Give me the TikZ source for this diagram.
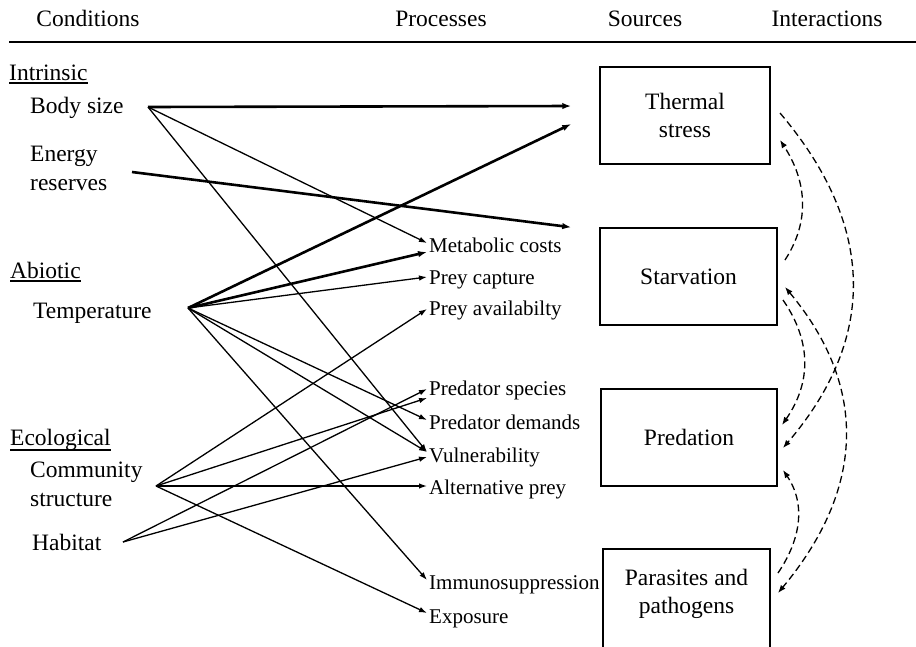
\documentclass[tikz,border=0pt]{standalone}
\usepackage{fontspec}
\setmainfont{Liberation Serif}
\usetikzlibrary{arrows.meta,calc}
\begin{document}
\begin{tikzpicture}[x=1pt,y=-1pt,
  lab/.style={anchor=base west,inner sep=0pt,font=\fontsize{23.5}{29}\selectfont},
  lab2/.style={anchor=west,inner sep=0pt,align=left,font=\fontsize{23.5}{29}\selectfont},
  proc/.style={anchor=base west,inner sep=0pt,font=\fontsize{21}{25}\selectfont},
  head/.style={anchor=base,inner sep=0pt,font=\fontsize{23.5}{29}\selectfont},
  srcbox/.style={draw,line width=1.5pt,align=center,inner sep=0pt,font=\fontsize{23.5}{28.5}\selectfont},
  boxtxt/.style={align=center,inner sep=0pt,font=\fontsize{23.5}{28.5}\selectfont},
  uline/.style={line width=1.2pt},
  thn/.style={line width=1.3pt,-{Latex[length=8pt,width=5.5pt]}},
  thk/.style={line width=2.6pt,-{Latex[length=9pt,width=6.5pt]}},
  dsh/.style={line width=1.3pt,dash pattern=on 7pt off 4pt,-{Latex[length=8pt,width=6pt]}},
  dshtwo/.style={line width=1.3pt,dash pattern=on 7pt off 4pt,{Latex[length=8pt,width=6pt]}-{Latex[length=8pt,width=6pt]}},
]
\useasboundingbox (0,0) rectangle (916,646);
\clip (0,0) rectangle (916,646);

% header
\node[head] (hc) at (88,26) {Conditions};
\node[head] (hp) at (441,26) {Processes};
\node[head] (hs) at (645,26) {Sources};
\node[head] (hi) at (827,26) {Interactions};
\draw[line width=1.8pt] (9,42) -- (916,42);

% conditions
\node[lab] (intr) at (9,80) {Intrinsic};
\draw[uline] ($(intr.base west)+(0,3)$) -- ($(intr.base east)+(0,3)$);
\node[lab] (bsz) at (30,113) {Body size};
\node[lab2] (enr) at (30,168) {Energy\\reserves};
\node[lab] (abio) at (10,278) {Abiotic};
\draw[uline] ($(abio.base west)+(0,3)$) -- ($(abio.base east)+(0,3)$);
\node[lab] (temp) at (33,318) {Temperature};
\node[lab] (ecol) at (10,445) {Ecological};
\draw[uline] ($(ecol.base west)+(0,5)$) -- ($(ecol.base east)+(0,5)$);
\node[lab2] (comm) at (30,484) {Community\\structure};
\node[lab] (hab) at (32,550) {Habitat};

\coordinate (pBS) at (148,107);
\coordinate (pER) at (132,172);
\coordinate (pT) at (188,308);
\coordinate (pC) at (156,486);
\coordinate (pH) at (123,542);

% processes
\node[proc] (mc) at (429,252) {Metabolic costs};
\node[proc] (pc) at (429,284) {Prey capture};
\node[proc] (pa) at (429,315) {Prey availabilty};
\node[proc] (ps) at (429,395) {Predator species};
\node[proc] (pd) at (429,429) {Predator demands};
\node[proc] (vul) at (429,462) {Vulnerability};
\node[proc] (alt) at (429,494) {Alternative prey};
\node[proc] (imm) at (429,589) {Immunosuppression};
\node[proc] (exq) at (429,623) {Exposure};

% sources
\node[srcbox,minimum width=170pt,minimum height=97pt] (therm) at (685,115.5) {Thermal\\stress};
\node[srcbox,minimum width=177pt,minimum height=97pt] (starv) at (688.5,276.5) {Starvation};
\node[srcbox,minimum width=176pt,minimum height=97pt] (pred) at (689,437.5) {Predation};
\node[srcbox,minimum width=167pt,minimum height=104pt] (para) at (686.5,601) {};
\node[boxtxt] (parat) at (686.5,594) {Parasites and\\pathogens};

% thick arrows
\draw[thk] (pBS) -- ($(therm.west)+(-28,-9.5)$);
\draw[thk] (pT) -- ($(therm.west)+(-28,8.5)$);
\draw[thk] (pER) -- ($(starv.north west)+(-28,0)$);
\draw[thk] (pT) -- ($(mc.base west)+(-2,0)$);

% thin arrows
\draw[thn] (pBS) -- ($(mc.base west)+(-2,-9)$);
\draw[thn] (pBS) -- ($(vul.base west)+(-2,-10)$);
\draw[thn] (pT) -- ($(pc.base west)+(-2,-7)$);
\draw[thn] (pT) -- ($(pd.base west)+(-2,-9)$);
\draw[thn] (pT) -- ($(vul.base west)+(-2,-10)$);
\draw[thn] (pT) -- ($(imm.base west)+(-2,-9)$);
\draw[thn] (pC) -- ($(pa.base west)+(-2,-6)$);
\draw[thn] (pC) -- ($(ps.base west)+(-2,3)$);
\draw[thn] (pC) -- ($(alt.base west)+(-2,-8)$);
\draw[thn] (pC) -- ($(exq.base west)+(-2,-10)$);
\draw[thn] (pH) -- ($(ps.base west)+(-2,-6)$);
\draw[thn] (pH) -- ($(vul.base west)+(-2,-5)$);

% interactions
\coordinate (tA) at (780,113);
\coordinate (tB) at (780,140);
\coordinate (sA) at (785,260);
\coordinate (sB) at (785,287);
\coordinate (sC) at (783,300);
\coordinate (rA) at (782,425);
\coordinate (rB) at (783,448);
\coordinate (rC) at (783,470);
\coordinate (qA) at (778,573);
\coordinate (qB) at (778,593);
\draw[dsh] (tA) .. controls (875,225) and (878,337) .. (rB);
\draw[dsh] (sA) .. controls (811,220) and (806,180) .. (tB);
\draw[dshtwo] (sB) .. controls (870,389) and (863,491) .. (qB);
\draw[dsh] (sC) .. controls (812,342) and (811,383) .. (rA);
\draw[dsh] (qA) .. controls (801,539) and (806,504) .. (rC);
\end{tikzpicture}
\end{document}
